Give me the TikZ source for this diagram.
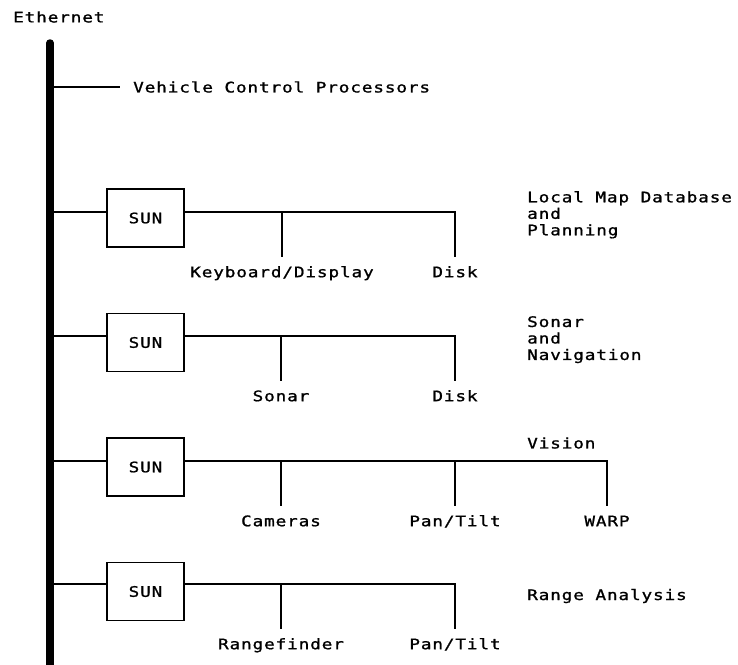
\documentclass[tikz,border=0pt]{standalone}
\usepackage{fontspec}
\newfontfamily\dmono[LetterSpace=6,FakeStretch=1.22,FakeBold=1.2]{DejaVu Sans Mono}
\begin{document}
\begin{tikzpicture}[x=1pt,y=-1pt,
  lbl/.style={font=\dmono\fontsize{14.5}{16.5}\selectfont, inner sep=0pt},
  dev/.style={lbl, anchor=north, inner ysep=10pt, text height=10pt, text depth=3pt},
  sunbox/.style={draw, line width=1.6pt, minimum width=77pt, minimum height=58pt, lbl},
  wire/.style={line width=1.6pt},
  bus/.style={line width=7.5pt, line cap=round}
]
\useasboundingbox (0,0) rectangle (738,664);

% Ethernet bus
\node[lbl, anchor=west] (eth) at (13,17) {Ethernet};
\coordinate (bustop) at (50,43);
\coordinate (busbot) at (50,670);
\draw[bus] (bustop) -- (busbot);

% Vehicle control processors
\coordinate (b0) at (54,87);
\node[lbl, anchor=west, inner xsep=13pt] (vcp) at (120,87) {Vehicle Control Processors};
\draw[wire] (b0) -- (vcp.west);

% Row 1
\coordinate (b1) at (54,212);
\node[sunbox] (sun1) at (145.5,218) {SUN};
\coordinate (t11) at (282,212);
\coordinate (t12) at (455,212);
\node[dev] (kbd) at (282,257) {Keyboard/Display};
\node[dev] (disk1) at (455,257) {Disk};
\draw[wire] (b1) -- (b1 -| sun1.west);
\draw[wire] (sun1.east |- t11) -- (t12) -- (disk1.north);
\draw[wire] (t11) -- (kbd.north);
\node[lbl, anchor=north west, align=left] (lmd) at (527,191) {Local Map Database\\and\\Planning};

% Row 2
\coordinate (b2) at (54,336);
\node[sunbox] (sun2) at (145.5,342.5) {SUN};
\coordinate (t21) at (281,336);
\coordinate (t22) at (455,336);
\node[dev] (sonar) at (281,381) {Sonar};
\node[dev] (disk2) at (455,381) {Disk};
\draw[wire] (b2) -- (b2 -| sun2.west);
\draw[wire] (sun2.east |- t21) -- (t22) -- (disk2.north);
\draw[wire] (t21) -- (sonar.north);
\node[lbl, anchor=north west, align=left] (snav) at (527,316) {Sonar\\and\\Navigation};

% Row 3
\coordinate (b3) at (54,461);
\node[sunbox] (sun3) at (145.5,467) {SUN};
\coordinate (t31) at (281,461);
\coordinate (t32) at (455,461);
\coordinate (t33) at (607,461);
\node[dev] (cam) at (281,506) {Cameras};
\node[dev] (pt1) at (455,506) {Pan/Tilt};
\node[dev] (warp) at (607,506) {WARP};
\draw[wire] (b3) -- (b3 -| sun3.west);
\draw[wire] (sun3.east |- t31) -- (t33) -- (warp.north);
\draw[wire] (t31) -- (cam.north);
\draw[wire] (t32) -- (pt1.north);
\node[lbl, anchor=west] (vis) at (527,443) {Vision};

% Row 4
\coordinate (b4) at (54,584);
\node[sunbox] (sun4) at (145.5,591.5) {SUN};
\coordinate (t41) at (281,584);
\coordinate (t42) at (455,584);
\node[dev] (rf) at (281,629) {Rangefinder};
\node[dev] (pt2) at (455,629) {Pan/Tilt};
\draw[wire] (b4) -- (b4 -| sun4.west);
\draw[wire] (sun4.east |- t41) -- (t42) -- (pt2.north);
\draw[wire] (t41) -- (rf.north);
\node[lbl, anchor=west] (ra) at (527,596) {Range Analysis};
\end{tikzpicture}
\end{document}
